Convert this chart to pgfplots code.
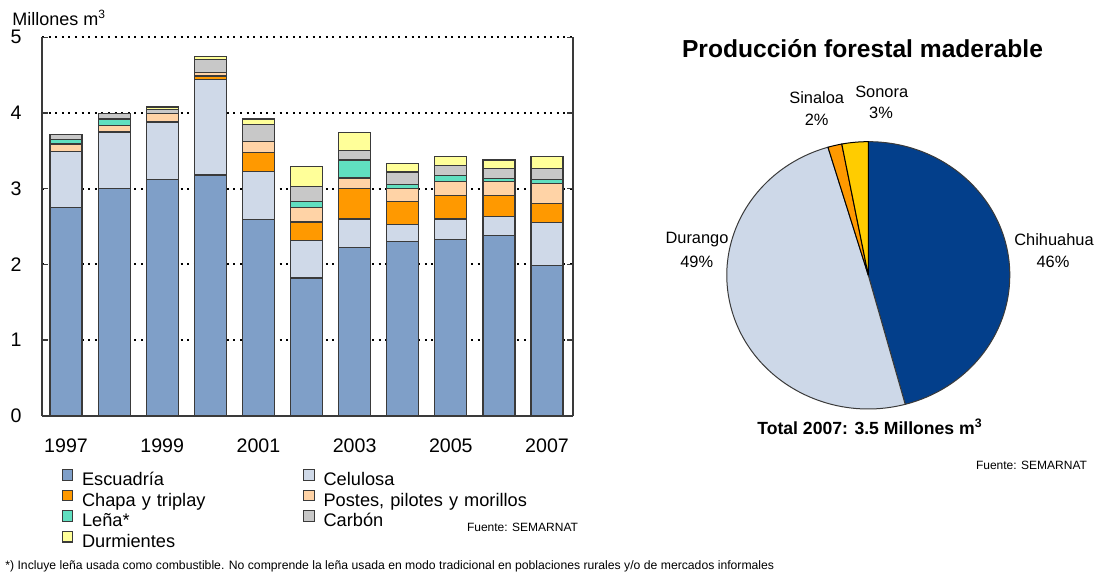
\documentclass[border=0pt]{standalone}
\usepackage{fontspec}
\setmainfont{Liberation Sans}
\usepackage{pgfplots}
\usepackage{pgfplotstable}
\pgfplotsset{compat=1.18}

\definecolor{cEsc}{HTML}{7F9FC8}
\definecolor{cCel}{HTML}{CFD9E8}
\definecolor{cCha}{HTML}{FF9900}
\definecolor{cPos}{HTML}{FFD3A6}
\definecolor{cLen}{HTML}{60DFC0}
\definecolor{cCar}{HTML}{C8C8C8}
\definecolor{cDur}{HTML}{FFFF99}
\definecolor{cChi}{HTML}{033F8B}
\definecolor{cDgo}{HTML}{CDD8E8}
\definecolor{cSin}{HTML}{FF9900}
\definecolor{cSon}{HTML}{FFCC00}
\definecolor{edge}{HTML}{3A3A3A}

\newcommand\fs[1]{\fontsize{#1}{#1}\selectfont}

\pgfplotstableread{
year Esc Cel Cha Pos Len Car Dur
1997 2.75 0.74 0.00 0.10 0.06 0.07 0.00
1998 3.00 0.75 0.00 0.09 0.08 0.07 0.00
1999 3.12 0.76 0.00 0.11 0.00 0.06 0.03
2000 3.18 1.26 0.05 0.05 0.00 0.17 0.04
2001 2.59 0.64 0.25 0.14 0.00 0.23 0.07
2002 1.82 0.49 0.25 0.19 0.08 0.20 0.26
2003 2.22 0.38 0.40 0.14 0.24 0.12 0.24
2004 2.30 0.23 0.30 0.17 0.05 0.17 0.11
2005 2.33 0.27 0.31 0.19 0.07 0.14 0.11
2006 2.38 0.25 0.28 0.18 0.04 0.14 0.11
2007 1.99 0.56 0.25 0.27 0.05 0.15 0.15
}\prod

\pgfplotsset{sq/.style={legend image code/.code={\draw[##1,line width=0.6pt,draw=edge] (0pt,0pt) rectangle (5.3pt,5.3pt);}}}

\begin{document}
\begin{tikzpicture}[x=0.5pt,y=-0.5pt]
\useasboundingbox (0,0) rectangle (1097,575);

\begin{axis}[
  at={(21pt,-207.85pt)}, anchor=south west,
  scale only axis, width=265.5pt, height=189.2pt,
  ybar stacked, bar width=0.665,
  xmin=1996.5, xmax=2007.54, ymin=0, ymax=5,
  axis x line*=bottom, axis y line*=box,
  axis line style={draw=edge, line width=0.8pt},
  xtick={1997,1999,...,2007},
  ytick={0,1,...,5},
  x tick label style={/pgf/number format/1000 sep={}, yshift=-8.2pt, font=\fs{9.8}},
  y tick label style={xshift=-6.7pt, font=\fs{9.8}},
  /pgf/number format/assume math mode=true,
  xtick style={draw=none},
  ytick style={draw=edge, line width=0.8pt},
  major tick length=3pt,
  ymajorgrids,
  major grid style={black, line width=1pt, dash pattern=on 1pt off 2.3pt},
  every axis plot/.append style={draw=edge, line width=0.6pt},
  legend columns=2,
  legend style={at={(0.0371,-0.141)}, anchor=north west, draw=none, fill=none,
    inner sep=0pt, outer sep=0pt, font=\fs{9.1},
    nodes={inner xsep=4.3pt, inner ysep=0.5pt, text height=6.8pt, text depth=1.55pt, text width=106.25pt, align=left}},
  legend cell align=left,
]
\addplot[fill=cEsc, sq] table[x=year,y=Esc]{\prod};
\addplot[fill=cCel, sq] table[x=year,y=Cel]{\prod};
\addplot[fill=cCha, sq] table[x=year,y=Cha]{\prod};
\addplot[fill=cPos, sq] table[x=year,y=Pos]{\prod};
\addplot[fill=cLen, sq] table[x=year,y=Len]{\prod};
\addplot[fill=cCar, sq] table[x=year,y=Car]{\prod};
\addplot[fill=cDur, sq] table[x=year,y=Dur]{\prod};
\legend{Escuadría, Celulosa, Chapa y triplay, {Postes, pilotes y morillos}, Leña*, Carbón, Durmientes}
\end{axis}

\node[anchor=west, inner sep=0pt, font=\fs{9}] at (12,18) {Millones m\textsuperscript{3}};
\node[inner sep=0pt, font=\fs{6}] at (522.5,527.7) {Fuente: SEMARNAT};
\node[anchor=west, inner sep=0pt, font=\fs{6.1}] at (5,566.5) {*) Incluye leña usada como combustible. No comprende la leña usada en modo tradicional en poblaciones rurales y/o de mercados informales};

% pie
\begin{axis}[
  at={(434.15pt,-137.65pt)}, anchor=center,
  scale only axis, width=141.5pt, height=133.65pt,
  xmin=-1, xmax=1, ymin=-1, ymax=1, hide axis, clip=false]
\filldraw[fill=cChi, draw=edge, line width=0.5pt] (axis cs:0,0) -- (axis cs:{cos(90)},{sin(90)}) arc[start angle=90, end angle={90-45.8*3.6}, x radius=70.75pt, y radius=66.825pt] -- cycle;
\filldraw[fill=cDgo, draw=edge, line width=0.5pt] (axis cs:0,0) -- (axis cs:{cos(90-45.8*3.6)},{sin(90-45.8*3.6)}) arc[start angle={90-45.8*3.6}, end angle={90-95.4*3.6}, x radius=70.75pt, y radius=66.825pt] -- cycle;
\filldraw[fill=cSin, draw=black, line width=0.5pt] (axis cs:0,0) -- (axis cs:{cos(90-95.4*3.6)},{sin(90-95.4*3.6)}) arc[start angle={90-95.4*3.6}, end angle={90-97.0*3.6}, x radius=70.75pt, y radius=66.825pt] -- cycle;
\filldraw[fill=cSon, draw=black, line width=0.5pt] (axis cs:0,0) -- (axis cs:{cos(90-97.0*3.6)},{sin(90-97.0*3.6)}) arc[start angle={90-97.0*3.6}, end angle={90-100*3.6}, x radius=70.75pt, y radius=66.825pt] -- cycle;
\end{axis}

\node[font=\bfseries\fs{12.3}, inner sep=0pt] at (862.5,49) {Producción forestal maderable};
\node[font=\fs{8.2}, inner sep=0pt] at (816.7,98) {Sinaloa};
\node[font=\fs{8.2}, inner sep=0pt] at (816.7,120) {2\%};
\node[font=\fs{8.2}, inner sep=0pt] at (881.7,91.7) {Sonora};
\node[font=\fs{8.2}, inner sep=0pt] at (881,113.3) {3\%};
\node[font=\fs{8.2}, inner sep=0pt] at (697,240) {Durango};
\node[font=\fs{8.2}, inner sep=0pt] at (696.7,262) {49\%};
\node[font=\fs{8.2}, inner sep=0pt] at (1054,240) {Chihuahua};
\node[font=\fs{8.2}, inner sep=0pt] at (1053,262) {46\%};
\node[font=\bfseries\fs{8.8}, inner sep=0pt] at (870,426.7) {Total 2007: 3.5 Millones m\textsuperscript{3}};
\node[font=\fs{6}, inner sep=0pt] at (1031.5,465) {Fuente: SEMARNAT};
\end{tikzpicture}
\end{document}
